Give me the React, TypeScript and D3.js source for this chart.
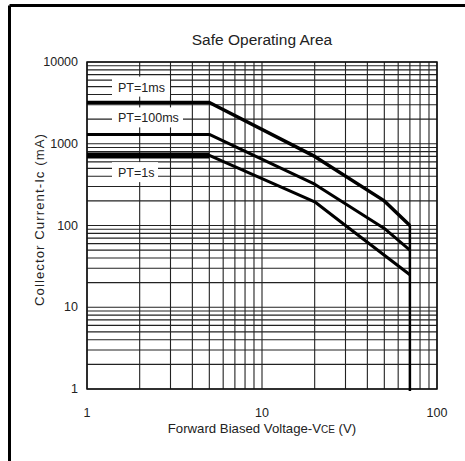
import * as d3 from "d3";

// Safe operating area curves (Vce in V, Ic in mA)
const pt1ms = [
  { x: 1, y: 3200 },
  { x: 5, y: 3200 },
  { x: 20, y: 700 },
  { x: 50, y: 200 },
  { x: 70, y: 100 },
];
const pt100ms = [
  { x: 1, y: 1300 },
  { x: 5, y: 1300 },
  { x: 20, y: 320 },
  { x: 50, y: 92 },
  { x: 70, y: 50 },
];
const pt1s = [
  { x: 1, y: 720 },
  { x: 5, y: 720 },
  { x: 20, y: 195 },
  { x: 30, y: 100 },
  { x: 70, y: 25 },
];
const xTicks = [1, 10, 100];
const yTicks = [1, 10, 100, 1000, 10000];
const labels = [
  { text: "PT=1ms", y: 5000, w: 58 },
  { text: "PT=100ms", y: 2100, w: 71 },
  { text: "PT=1s", y: 450, w: 46 },
];

const W = 465;
const H = 461;
const m = { left: 87, right: 437, top: 62, bottom: 389 };
const font = "'Liberation Sans', Arial, sans-serif";

const App = () => {
  const x = d3.scaleLog().domain([1, 100]).range([m.left, m.right]);
  const y = d3.scaleLog().domain([1, 10000]).range([m.bottom, m.top]);

  // minor grid values for each decade
  const xGrid: number[] = [];
  for (let d = 1; d < 100; d *= 10) for (let k = 1; k <= 9; k++) xGrid.push(d * k);
  xGrid.push(100);
  const yGrid: number[] = [];
  for (let d = 1; d < 10000; d *= 10) for (let k = 1; k <= 9; k++) yGrid.push(d * k);
  yGrid.push(10000);

  const line = d3
    .line<{ x: number; y: number }>()
    .x((d) => x(d.x))
    .y((d) => y(d.y));

  return (
    <svg
      width={W}
      height={H}
      style={{ position: "absolute", left: 0, top: 0, background: "#fff" }}
    >
      {/* outer frame */}
      <line x1={9.5} x2={W} y1={5.5} y2={5.5} stroke="#000" strokeWidth={3} />
      <line x1={9.5} x2={9.5} y1={5.5} y2={H} stroke="#000" strokeWidth={3} />

      <text x={262} y={45} textAnchor="middle" fontFamily={font} fontSize={15.5} fill="#222">
        Safe Operating Area
      </text>

      <g stroke="#222" strokeWidth={1.1}>
        {xGrid.map((v) => (
          <line key={"x" + v} x1={x(v)} x2={x(v)} y1={m.top} y2={m.bottom} />
        ))}
        {yGrid.map((v) => (
          <line key={"y" + v} x1={m.left} x2={m.right} y1={y(v)} y2={y(v)} />
        ))}
      </g>
      <rect
        x={m.left}
        y={m.top}
        width={m.right - m.left}
        height={m.bottom - m.top}
        fill="none"
        stroke="#111"
        strokeWidth={1.5}
      />

      {/* curve labels */}
      {labels.map((l) => (
        <g key={l.text}>
          <rect x={112} y={y(l.y) - 10} width={l.w} height={20} fill="#fff" />
          <text
            x={118}
            y={y(l.y) + 5}
            fontFamily={font}
            fontSize={12.5}
            fill="#222"
          >
            {l.text}
          </text>
        </g>
      ))}

      <g fill="none" stroke="#000" strokeLinejoin="round">
        <path d={line(pt1ms) ?? undefined} strokeWidth={3.5} />
        <path d={line(pt100ms) ?? undefined} strokeWidth={3} />
        <path d={line(pt1s) ?? undefined} strokeWidth={3} />
        <path d={line(pt1s.slice(0, 2)) ?? undefined} strokeWidth={6} />
        <line
          x1={x(70)}
          x2={x(70)}
          y1={y(pt1ms[pt1ms.length - 1].y)}
          y2={m.bottom + 2}
          strokeWidth={2.5}
        />
      </g>

      {/* axis tick labels */}
      {xTicks.map((v) => (
        <text
          key={"xt" + v}
          x={x(v)}
          y={417}
          textAnchor="middle"
          fontFamily={font}
          fontSize={12.5}
          fill="#222"
        >
          {v}
        </text>
      ))}
      {yTicks.map((v) => (
        <text
          key={"yt" + v}
          x={78}
          y={y(v) + 4}
          textAnchor="end"
          fontFamily={font}
          fontSize={12.5}
          fill="#222"
        >
          {v}
        </text>
      ))}

      <text x={262} y={433} textAnchor="middle" fontFamily={font} fontSize={13.2} fill="#222">
        Forward Biased Voltage-V<tspan fontSize={10}>CE</tspan> (V)
      </text>
      <text
        transform="translate(44,220) rotate(-90)"
        textAnchor="middle"
        fontFamily={font}
        fontSize={13.2}
        fill="#222"
        textLength={172}
        lengthAdjust="spacing"
      >
        Collector Current-Ic (mA)
      </text>
    </svg>
  );
};

export default App;
